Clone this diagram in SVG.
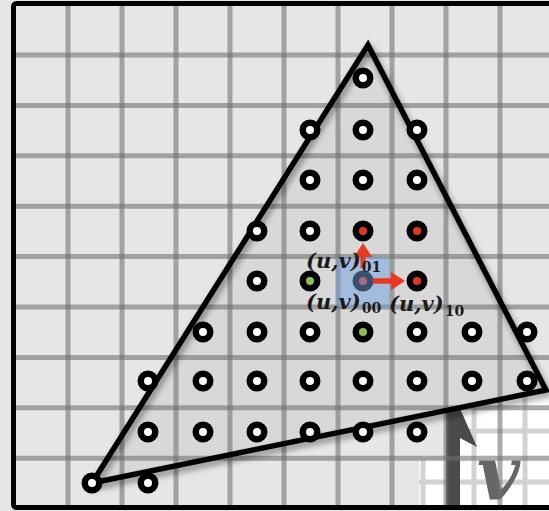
<svg xmlns="http://www.w3.org/2000/svg" width="549" height="511" viewBox="0 0 549 511">
<style>
.grid{stroke:#6e6e6e;stroke-opacity:0.58;stroke-width:5;fill:none}
.lgrid{stroke:#d2d2d2;stroke-width:5;fill:none}
.dot{fill:#fff;stroke:#000;stroke-width:6.5}
.red{fill:#e8341c}
.green{fill:#8cc152}
.lbl{font-family:"DejaVu Serif",serif;font-weight:bold;font-style:italic;font-size:21px;fill:#1a1a1a}
.sub{font-style:normal;font-size:14px}
.arr{fill:#e8381e}
</style>
<defs>
<filter id="sh" x="-10%" y="-10%" width="130%" height="130%">
<feDropShadow dx="2" dy="4" stdDeviation="3" flood-color="#000" flood-opacity="0.45"/>
</filter>
</defs>
<rect x="0" y="0" width="549" height="511" fill="#e6e6e6"/>
<g id="panel">
<polygon points="446,392 549,392 549,505 419,505 419,460 446,460" fill="#fff"/>
<line class="lgrid" x1="423" y1="460" x2="423" y2="505"/>
<line class="lgrid" x1="474" y1="392" x2="474" y2="505"/>
<line class="lgrid" x1="525" y1="392" x2="525" y2="505"/>
<line class="lgrid" x1="446" y1="431" x2="549" y2="431"/>
<line class="lgrid" x1="419" y1="482" x2="549" y2="482"/>
<polygon points="446,404 458,404 477,447 460,438 460,505 446,505" fill="#4a4a4a"/>
<text x="477" y="500" font-family="DejaVu Serif,serif" font-weight="bold" font-style="italic" font-size="74" fill="#666">v</text>
</g>
<polygon id="tri-fill" points="368,45 546,390 92,483" fill="#d8d8d8"/>
<g id="grid">
<path class="grid" d="M68,6V505M122,6V505M176,6V505M230,6V505M284,6V505M338,6V505M392,6V505M446,6V505M500,6V505"/>
<path class="grid" d="M16,55H549M16,105.4H549M16,155.8H549M16,206.2H549M16,256.6H549M16,307H549M16,357.4H549M16,407.8H549M16,458.2H549"/>
</g>
<g id="triangle" filter="url(#sh)">
<polygon points="368,45 546,390 92,483" fill="none" stroke="#000" stroke-width="5.5" stroke-linejoin="miter"/>
</g>
<g id="dots">
<g id="n0-5"><circle class="dot" cx="363" cy="78" r="7.25"/></g>
<g id="n1-4"><circle class="dot" cx="310" cy="130" r="7.25"/></g>
<g id="n1-5"><circle class="dot" cx="363" cy="130" r="7.25"/></g>
<g id="n1-6"><circle class="dot" cx="417" cy="130" r="7.25"/></g>
<g id="n2-4"><circle class="dot" cx="310" cy="180" r="7.25"/></g>
<g id="n2-5"><circle class="dot" cx="363" cy="180" r="7.25"/></g>
<g id="n2-6"><circle class="dot" cx="417" cy="180" r="7.25"/></g>
<g id="n3-3"><circle class="dot" cx="257" cy="231" r="7.25"/></g>
<g id="n3-4"><circle class="dot" cx="310" cy="231" r="7.25"/></g>
<g id="n3-5"><circle class="dot red" cx="363" cy="231" r="7.25"/></g>
<g id="n3-6"><circle class="dot red" cx="417" cy="231" r="7.25"/></g>
<g id="n4-3"><circle class="dot" cx="257" cy="281" r="7.25"/></g>
<g id="n4-4"><circle class="dot green" cx="310" cy="281" r="7.25"/></g>
<g id="n4-5"><circle class="dot red" cx="363" cy="281" r="7.25"/></g>
<g id="n4-6"><circle class="dot red" cx="417" cy="281" r="7.25"/></g>
<g id="n5-2"><circle class="dot" cx="203" cy="332" r="7.25"/></g>
<g id="n5-3"><circle class="dot" cx="257" cy="332" r="7.25"/></g>
<g id="n5-4"><circle class="dot" cx="310" cy="332" r="7.25"/></g>
<g id="n5-5"><circle class="dot green" cx="363" cy="332" r="7.25"/></g>
<g id="n5-6"><circle class="dot" cx="417" cy="332" r="7.25"/></g>
<g id="n5-7"><circle class="dot" cx="472" cy="332" r="7.25"/></g>
<g id="n5-8"><circle class="dot" cx="527" cy="332" r="7.25"/></g>
<g id="n6-1"><circle class="dot" cx="148" cy="381" r="7.25"/></g>
<g id="n6-2"><circle class="dot" cx="203" cy="381" r="7.25"/></g>
<g id="n6-3"><circle class="dot" cx="257" cy="381" r="7.25"/></g>
<g id="n6-4"><circle class="dot" cx="310" cy="381" r="7.25"/></g>
<g id="n6-5"><circle class="dot" cx="363" cy="381" r="7.25"/></g>
<g id="n6-6"><circle class="dot" cx="417" cy="381" r="7.25"/></g>
<g id="n6-7"><circle class="dot" cx="472" cy="381" r="7.25"/></g>
<g id="n6-8"><circle class="dot" cx="527" cy="381" r="7.25"/></g>
<g id="n7-1"><circle class="dot" cx="148" cy="432" r="7.25"/></g>
<g id="n7-2"><circle class="dot" cx="203" cy="432" r="7.25"/></g>
<g id="n7-3"><circle class="dot" cx="257" cy="432" r="7.25"/></g>
<g id="n7-4"><circle class="dot" cx="310" cy="432" r="7.25"/></g>
<g id="n7-5"><circle class="dot" cx="363" cy="432" r="7.25"/></g>
<g id="n7-6"><circle class="dot" cx="417" cy="432" r="7.25"/></g>
<g id="n8-0"><circle class="dot" cx="92" cy="483" r="7.25"/></g>
<g id="n8-1"><circle class="dot" cx="148" cy="483" r="7.25"/></g>
</g>
<rect id="cell" x="336" y="257" width="54" height="50" fill="#6fa0e0" fill-opacity="0.5"/>
<g id="connectors">
<line x1="363" y1="268" x2="363" y2="254" stroke="#e8381e" stroke-width="5"/>
<polygon class="arr" points="354,257 372,257 363,243"/>
<line x1="373" y1="281" x2="393" y2="281" stroke="#e8381e" stroke-width="5.5"/>
<polygon class="arr" points="391,272 391,290 405,281"/>
</g>
<g id="labels">
<text class="lbl" x="306" y="268">(u,v)<tspan class="sub" dx="1" dy="4">01</tspan></text>
<text class="lbl" x="306" y="309">(u,v)<tspan class="sub" dx="1" dy="3.5">00</tspan></text>
<text class="lbl" x="389" y="311">(u,v)<tspan class="sub" dx="1" dy="5">10</tspan></text>
</g>
<rect id="frame" x="13.5" y="3.5" width="560" height="504" rx="3" fill="none" stroke="#000" stroke-width="5"/>
</svg>
